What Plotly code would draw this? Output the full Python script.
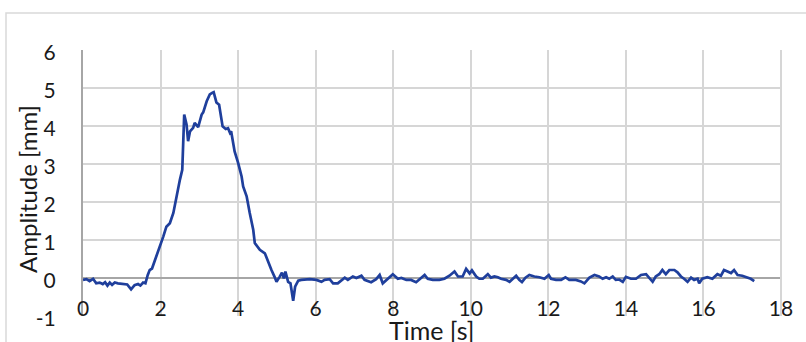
import plotly.graph_objects as go

# Displacement record: time [s] and amplitude [mm]
time_s = [
    0.00, 0.09, 0.17, 0.26, 0.34, 0.43, 0.51, 0.57, 0.63, 0.69, 0.75, 0.82, 0.90,
    1.03, 1.14, 1.24, 1.33, 1.42, 1.48, 1.55, 1.61, 1.67, 1.72, 1.78, 1.89, 1.98,
    2.07, 2.15, 2.24, 2.33, 2.41, 2.50, 2.56, 2.61, 2.67, 2.71, 2.76, 2.84, 2.88,
    2.93, 2.97, 3.06, 3.10, 3.19, 3.27, 3.33, 3.37, 3.44, 3.51, 3.60, 3.68, 3.74,
    3.79, 3.82, 3.91, 4.00, 4.09, 4.13, 4.22, 4.30, 4.39, 4.43, 4.56, 4.69, 4.77,
    4.86, 4.94, 4.99, 5.07, 5.13, 5.18, 5.22, 5.29, 5.35, 5.42, 5.47, 5.55, 5.63,
    5.85, 6.02, 6.15, 6.23, 6.36, 6.45, 6.57, 6.66, 6.75, 6.83, 6.96, 7.05, 7.18,
    7.26, 7.43, 7.56, 7.65, 7.73, 7.86, 7.99, 8.12, 8.21, 8.34, 8.46, 8.59, 8.72,
    8.81, 8.89, 9.02, 9.19, 9.32, 9.45, 9.58, 9.67, 9.79, 9.88, 9.97, 10.03, 10.14,
    10.22, 10.31, 10.44, 10.52, 10.61, 10.70, 10.78, 10.91, 11.00, 11.08, 11.17,
    11.25, 11.32, 11.41, 11.51, 11.64, 11.77, 11.90, 12.01, 12.07, 12.20, 12.33,
    12.44, 12.54, 12.71, 12.84, 12.93, 13.06, 13.19, 13.31, 13.40, 13.49, 13.57,
    13.66, 13.74, 13.83, 13.92, 14.00, 14.13, 14.26, 14.39, 14.52, 14.60, 14.69,
    14.77, 14.86, 14.94, 15.03, 15.12, 15.25, 15.33, 15.42, 15.50, 15.59, 15.68,
    15.76, 15.85, 15.89, 15.97, 16.10, 16.23, 16.36, 16.45, 16.53, 16.62, 16.71,
    16.79, 16.88, 17.00, 17.13, 17.22, 17.31,
]
amplitude_mm = [
    -0.05, -0.03, -0.08, -0.02, -0.14, -0.12, -0.16, -0.11, -0.20, -0.12, -0.18, -0.12, -0.14,
    -0.16, -0.17, -0.30, -0.19, -0.16, -0.20, -0.12, -0.14, 0.08, 0.21, 0.25, 0.56, 0.85,
    1.09, 1.35, 1.44, 1.71, 2.15, 2.59, 2.85, 4.30, 4.04, 3.60, 3.86, 3.95, 4.08,
    4.00, 3.97, 4.30, 4.36, 4.65, 4.83, 4.87, 4.89, 4.62, 4.56, 3.99, 3.92, 3.94,
    3.82, 3.86, 3.33, 3.03, 2.67, 2.41, 2.15, 1.71, 1.27, 0.92, 0.74, 0.65, 0.42,
    0.21, 0.03, -0.10, 0.03, 0.14, -0.01, 0.17, -0.10, -0.14, -0.60, -0.23, -0.07, -0.05,
    -0.03, -0.05, -0.10, -0.05, -0.03, -0.14, -0.14, -0.07, 0.01, -0.05, 0.04, 0.00, 0.06,
    -0.05, -0.11, -0.03, 0.08, -0.14, -0.02, 0.10, -0.02, 0.00, -0.05, -0.05, -0.11, 0.01,
    0.08, -0.02, -0.05, -0.05, -0.02, 0.06, 0.17, 0.04, 0.04, 0.24, 0.12, 0.20, 0.04,
    -0.02, -0.02, 0.10, 0.01, 0.04, 0.02, -0.02, -0.05, -0.10, -0.02, 0.06,
    -0.05, -0.11, 0.01, 0.08, 0.04, 0.02, -0.02, 0.08, -0.02, -0.05, -0.05,
    0.02, -0.05, -0.05, -0.09, -0.14, 0.01, 0.08, 0.04, -0.02, 0.02, -0.02,
    0.04, -0.05, -0.04, -0.10, 0.03, -0.02, -0.02, 0.08, 0.10, 0.01, -0.10,
    0.04, 0.10, 0.21, 0.10, 0.21, 0.21, 0.15, 0.04, -0.02, -0.10, 0.01,
    -0.05, -0.02, -0.14, -0.02, 0.02, -0.02, 0.10, 0.06, 0.21, 0.17, 0.13,
    0.21, 0.08, 0.06, 0.02, -0.02, -0.08,
]

x_ticks = [0, 2, 4, 6, 8, 10, 12, 14, 16, 18]
y_ticks = [-1, 0, 1, 2, 3, 4, 5, 6]

FONT = "Lato"
TEXT = "#1a1a1a"
GRID = "#d6d6d6"
AXIS = "#a6a6a6"

fig = go.Figure()
fig.add_trace(go.Scatter(
    x=time_s, y=amplitude_mm, mode="lines",
    line=dict(color="#1f3f9c", width=2.7),
    hoverinfo="skip", showlegend=False,
))

fig.update_layout(
    width=806, height=342,
    margin=dict(l=83, r=25, t=50, b=26),
    paper_bgcolor="white", plot_bgcolor="white",
    font=dict(family=FONT, size=21, color=TEXT),
    xaxis=dict(
        range=[0, 18], tickvals=x_ticks, ticktext=[str(v) for v in x_ticks],
        showgrid=True, gridcolor=GRID, gridwidth=2,
        zeroline=False, showline=False, ticks="",
        ticklabelposition="outside", ticklabelstandoff=-22,
        tickfont=dict(family=FONT, size=21, color=TEXT),
    ),
    yaxis=dict(
        range=[-1, 6], tickvals=y_ticks, ticktext=[str(v) for v in y_ticks],
        showgrid=True, gridcolor=GRID, gridwidth=2,
        zeroline=True, zerolinecolor=AXIS, zerolinewidth=2,
        showline=True, linecolor=AXIS, linewidth=2, mirror=False,
        ticks="", ticklabelstandoff=21, ticklabelshift=3,
        tickfont=dict(family=FONT, size=21, color=TEXT),
    ),
    shapes=[
        # right border of the plotting area
        dict(type="line", xref="paper", yref="paper", x0=1, x1=1, y0=0, y1=1,
             line=dict(color=GRID, width=2)),
        # chart frame
        dict(type="rect", xref="paper", yref="paper",
             x0=-77 / 698, x1=730 / 698, y0=-30 / 266, y1=303 / 266,
             line=dict(color="#d9d9d9", width=1.5), fillcolor="rgba(0,0,0,0)",
             layer="below"),
    ],
    annotations=[
        dict(text="Time [s]", xref="paper", yref="paper", x=348 / 698, y=3 / 266,
             xanchor="center", yanchor="top", showarrow=False,
             font=dict(family=FONT, size=25, color=TEXT)),
        dict(text="Amplitude [mm]", xref="paper", yref="paper", x=-55 / 698, y=127 / 266,
             xanchor="center", yanchor="middle", textangle=-90, showarrow=False,
             font=dict(family=FONT, size=24, color=TEXT)),
    ],
)

fig.write_html("out.html")
